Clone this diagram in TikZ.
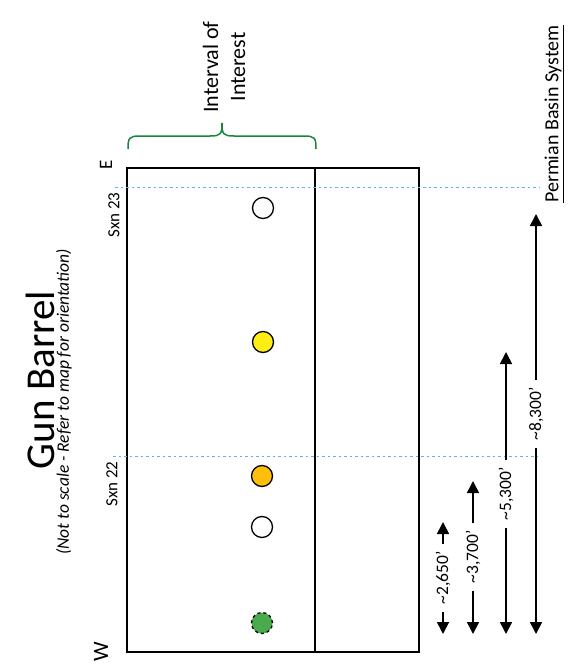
\documentclass[tikz,border=0pt]{standalone}
\usepackage{fontspec}
\setmainfont{Carlito}
\usetikzlibrary{arrows.meta}
\definecolor{sxnblue}{RGB}{90,185,215}
\definecolor{bracegreen}{RGB}{20,135,60}
\definecolor{wellyellow}{RGB}{255,238,20}
\definecolor{wellorange}{RGB}{255,190,10}
\definecolor{wellgreen}{RGB}{75,170,75}
\begin{document}
\begin{tikzpicture}[x=1pt,y=-1pt]
        \tikzstyle{well}=[circle,draw=black,line width=1.3pt,minimum size=21pt,inner sep=0pt]
        \tikzstyle{sxnline}=[draw=sxnblue,line width=1pt,dash pattern=on 2.5pt off 3pt]
        \tikzstyle{dim}=[draw,line width=1.7pt,-{Triangle[length=12pt,width=12pt]}]
        \tikzstyle{dimlabel}=[rotate=90,font=\fontsize{17.5}{19}\selectfont,inner sep=7pt]
        \tikzstyle{sidelabel}=[rotate=90,font=\fontsize{17}{19}\selectfont]
        \useasboundingbox (0,0) rectangle (572,666);
        % title
        \node[rotate=90,font=\fontsize{41}{45}\selectfont] (title) at (40,380) {Gun Barrel};
        \node[rotate=90,font=\fontsize{17.5}{19}\selectfont\itshape] (subtitle) at (64,402) {(Not to scale - Refer to map for orientation)};
        % barrel outline
        \draw[line width=1.5pt] (127,168) rectangle (419,652);
        \draw[line width=1.5pt] (315,168) -- (315,652);
        % interval of interest
        \coordinate (bl) at (128,149);
        \coordinate (br) at (316,149);
        \coordinate (btip) at (222,123);
        \draw[bracegreen,line width=1.5pt] (bl) .. controls (128,138) and (129,136) .. (140,136)
              -- (210,136) .. controls (221,136) and (222,134) .. (btip)
              .. controls (222,134) and (223,136) .. (234,136)
              -- (304,136) .. controls (315,136) and (316,138) .. (br);
        \node[rotate=90,align=center,font=\fontsize{22}{27}\selectfont] (ioi) at (224,67) {Interval of\\Interest};
        % sections
        \coordinate (s23w) at (115,187);
        \coordinate (s23e) at (540,187);
        \coordinate (s22w) at (113,456);
        \coordinate (s22e) at (538,456);
        \path[sxnline] (s23w) -- (s23e);
        \path[sxnline] (s22w) -- (s22e);
        \node[sidelabel] (sxn23) at (114,215) {Sxn 23};
        \node[sidelabel] (sxn22) at (112,484) {Sxn 22};
        \node[rotate=90,font=\fontsize{19}{21}\selectfont] (east) at (106,165) {E};
        \node[rotate=90,font=\fontsize{22}{24}\selectfont] (west) at (101,652) {W};
        % wells
        \node[well,fill=white] (w1) at (263,208) {};
        \node[well,fill=wellyellow] (w2) at (263,342) {};
        \node[well,fill=wellorange] (w3) at (262,476) {};
        \node[well,fill=white] (w4) at (262,527) {};
        \node[well,fill=wellgreen,dashed] (w5) at (262,623) {};
        % spacings
        \node[dimlabel] (d1) at (443,578) {\textasciitilde2,650’};
        \coordinate (d1t) at (443,522);
        \coordinate (d1b) at (443,634);
        \node[dimlabel] (d2) at (473,557) {\textasciitilde3,700’};
        \coordinate (d2t) at (473,481);
        \coordinate (d2b) at (473,634);
        \node[dimlabel] (d3) at (506,494) {\textasciitilde5,300’};
        \coordinate (d3t) at (506,352);
        \coordinate (d3b) at (506,634);
        \node[dimlabel] (d4) at (536,414) {\textasciitilde8,300’};
        \coordinate (d4t) at (536,214);
        \coordinate (d4b) at (536,634);
        \path[dim] (d1) -- (d1t);
        \path[dim] (d1) -- (d1b);
        \path[dim] (d2) -- (d2t);
        \path[dim] (d2) -- (d2b);
        \path[dim] (d3) -- (d3t);
        \path[dim] (d3) -- (d3b);
        \path[dim] (d4) -- (d4t);
        \path[dim] (d4) -- (d4b);
        \node[rotate=90,font=\fontsize{20}{22}\selectfont] (pbs) at (554,114) {\underline{Permian Basin System}};
\end{tikzpicture}
\end{document}
